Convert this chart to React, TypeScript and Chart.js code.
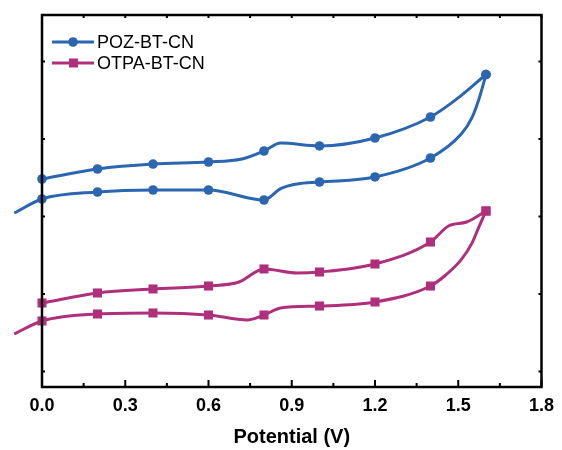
import React, { useEffect, useRef } from 'react';
import { Chart, registerables } from 'chart.js';

Chart.register(...registerables);

// ---- data (potential in V, current in arbitrary offset units) ----
const seriesNames = ['POZ-BT-CN', 'OTPA-BT-CN'];
const seriesColors = ['#2b66b1', '#b02f7c'];

// POZ-BT-CN forward (lower) scan
const pozFwdX = [-0.1, 0, 0.2, 0.4, 0.6, 0.8, 0.86, 0.92, 1.0, 1.2, 1.4, 1.51, 1.55, 1.575, 1.6];
const pozFwdY = [2.045, 2.226, 2.316, 2.342, 2.342, 2.213, 2.36, 2.42, 2.445, 2.51, 2.755, 3.06, 3.28, 3.52, 3.832];
// POZ-BT-CN reverse (upper) scan
const pozRevX = [0, 0.2, 0.4, 0.6, 0.72, 0.8, 0.86, 1.0, 1.2, 1.4, 1.5, 1.6];
const pozRevY = [2.484, 2.613, 2.677, 2.703, 2.742, 2.845, 2.948, 2.91, 3.013, 3.284, 3.53, 3.832];

// OTPA-BT-CN forward (lower) scan
const otpaFwdX = [-0.1, 0, 0.2, 0.4, 0.6, 0.74, 0.8, 0.86, 1.0, 1.2, 1.4, 1.455, 1.51, 1.55, 1.575, 1.6];
const otpaFwdY = [0.484, 0.652, 0.742, 0.755, 0.729, 0.665, 0.729, 0.819, 0.845, 0.897, 1.103, 1.245, 1.44, 1.66, 1.87, 2.071];
// OTPA-BT-CN reverse (upper) scan
const otpaRevX = [0, 0.2, 0.4, 0.6, 0.71, 0.8, 0.92, 1.0, 1.2, 1.4, 1.465, 1.53, 1.6];
const otpaRevY = [0.884, 1.013, 1.065, 1.103, 1.155, 1.323, 1.271, 1.284, 1.387, 1.671, 1.877, 1.929, 2.071];

const markerX = [0, 0.2, 0.4, 0.6, 0.8, 1.0, 1.2, 1.4, 1.6];
const xTicks = [0, 0.3, 0.6, 0.9, 1.2, 1.5, 1.8];
const xMinorTicks = [0.15, 0.45, 0.75, 1.05, 1.35, 1.65];
const yTicks = [0, 1, 2, 3, 4];

const FONT = '"Liberation Sans", Arial, Helvetica, sans-serif';

export default function App() {
  const ref = useRef<HTMLCanvasElement>(null);

  useEffect(() => {
    if (!ref.current) return;
    const toPts = (xs: number[], ys: number[]) => xs.map((x, i) => ({ x, y: ys[i] }));
    const isMarker = (x: number) => markerX.some((m) => Math.abs(m - x) < 1e-6);
    const mk = (label: string, xs: number[], ys: number[], color: string, style: string, r: number) => ({
      label,
      data: toPts(xs, ys),
      borderColor: color,
      backgroundColor: color,
      borderWidth: 3,
      pointStyle: style,
      pointRadius: (c: any) => (c.raw && isMarker(c.raw.x) ? r : 0),
      pointHoverRadius: 0,
      pointBorderWidth: 0,
      cubicInterpolationMode: 'monotone',
      clip: false,
      fill: false,
    });

    const framePlugin = {
      id: 'frame',
      afterDatasetsDraw(chart: any) {
        const { ctx, chartArea: a, scales } = chart;
        const xs = scales.x;
        const ys = scales.y;
        ctx.save();
        ctx.strokeStyle = '#000';
        ctx.lineWidth = 2.5;
        ctx.strokeRect(a.left, a.top, a.right - a.left, a.bottom - a.top);
        ctx.lineWidth = 2;
        ctx.beginPath();
        for (const v of xTicks) {
          const px = xs.getPixelForValue(v);
          ctx.moveTo(px, a.bottom);
          ctx.lineTo(px, a.bottom - 7);
          ctx.moveTo(px, a.top);
          ctx.lineTo(px, a.top + 3);
        }
        for (const v of xMinorTicks) {
          const px = xs.getPixelForValue(v);
          ctx.moveTo(px, a.bottom);
          ctx.lineTo(px, a.bottom - 4);
          ctx.moveTo(px, a.top);
          ctx.lineTo(px, a.top + 3);
        }
        for (const v of yTicks) {
          const py = ys.getPixelForValue(v);
          ctx.moveTo(a.left, py);
          ctx.lineTo(a.left + 3, py);
          ctx.moveTo(a.right, py);
          ctx.lineTo(a.right - 3, py);
        }
        ctx.stroke();

        // legend
        const rows = [42, 63];
        rows.forEach((y, i) => {
          const color = seriesColors[i];
          ctx.strokeStyle = color;
          ctx.fillStyle = color;
          ctx.lineWidth = 3;
          ctx.beginPath();
          ctx.moveTo(52, y);
          ctx.lineTo(94, y);
          ctx.stroke();
          if (i === 0) {
            ctx.beginPath();
            ctx.arc(73, y, 4.8, 0, Math.PI * 2);
            ctx.fill();
          } else {
            ctx.fillRect(69, y - 4.5, 9, 9);
          }
          ctx.fillStyle = '#000';
          ctx.font = `18px ${FONT}`;
          ctx.textBaseline = 'middle';
          ctx.textAlign = 'left';
          ctx.fillText(seriesNames[i], 97, y + 1);
        });
        ctx.restore();
      },
    };

    const chart = new Chart(ref.current, {
      type: 'line',
      data: {
        datasets: [
          mk(seriesNames[0], pozFwdX, pozFwdY, seriesColors[0], 'circle', 4.8),
          mk(seriesNames[0] + ' rev', pozRevX, pozRevY, seriesColors[0], 'circle', 4.8),
          mk(seriesNames[1], otpaFwdX, otpaFwdY, seriesColors[1], 'rect', 6.4),
          mk(seriesNames[1] + ' rev', otpaRevX, otpaRevY, seriesColors[1], 'rect', 6.4),
        ] as any,
      },
      options: {
        responsive: false,
        animation: false,
        devicePixelRatio: 1,
        layout: { padding: { top: 15, right: 19, left: 0, bottom: 0 } },
        plugins: { legend: { display: false }, tooltip: { enabled: false } },
        scales: {
          x: {
            type: 'linear',
            min: 0,
            max: 1.8,
            grid: { display: false, drawTicks: false },
            border: { display: false },
            afterBuildTicks: (s: any) => {
              s.ticks = xTicks.map((v) => ({ value: v }));
            },
            afterFit: (s: any) => {
              s.height = 63;
            },
            ticks: {
              padding: 8,
              color: '#000',
              font: { family: FONT, size: 18, weight: 'bold' },
              callback: (v: any) => Number(v).toFixed(1),
              maxRotation: 0,
              autoSkip: false,
            },
            title: {
              display: true,
              text: 'Potential (V)',
              color: '#000',
              font: { family: FONT, size: 20, weight: 'bold' },
              padding: { top: 0, bottom: 1 },
            },
          },
          y: {
            type: 'linear',
            min: -0.2,
            max: 4.6,
            grid: { display: false, drawTicks: false },
            border: { display: false },
            ticks: { display: false },
            afterFit: (s: any) => {
              s.width = 42;
            },
          },
        },
      } as any,
      plugins: [framePlugin],
    });
    return () => chart.destroy();
  }, []);

  return (
    <div style={{ position: 'fixed', left: 0, top: 0, width: 562, height: 450, background: '#fff' }}>
      <canvas ref={ref} width={562} height={450} />
    </div>
  );
}
